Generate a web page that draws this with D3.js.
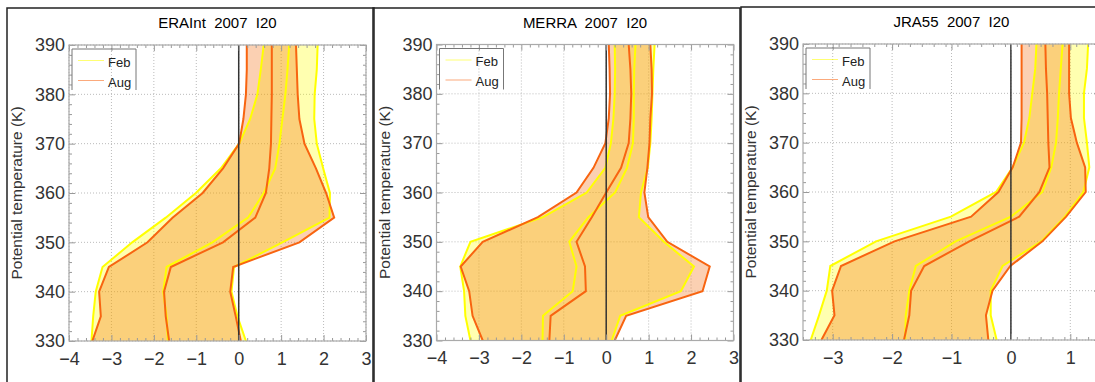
<!DOCTYPE html>
<html>
<head>
<meta charset="utf-8">
<script src="https://cdn.jsdelivr.net/npm/d3@7"></script>
<style>
  body { margin: 0; background: #fff; }
  text { font-family: 'Liberation Sans', Arial, sans-serif; }
</style>
</head>
<body>
<div class="chart"></div>
<script>
// potential temperature levels (K)
var levels = [330, 335, 340, 345, 350, 355, 360, 365, 370, 375, 380, 385, 390];

// ERAInt
var eraFebMin  = [-3.47, -3.43, -3.37, -3.21, -2.51, -1.72, -1.01, -0.42, 0.01, 0.27, 0.44, 0.52, 0.59];
var eraFebMean = [-1.67, -1.70, -1.78, -1.70, -0.62, 0.22, 0.59, 0.86, 0.96, 1.03, 1.10, 1.15, 1.19];
var eraFebMax  = [0.17, -0.03, -0.17, -0.11, 1.03, 2.14, 2.15, 1.99, 1.84, 1.78, 1.79, 1.84, 1.86];
var eraAugMin  = [-3.45, -3.25, -3.29, -3.06, -2.15, -1.56, -0.85, -0.37, 0.01, 0.11, 0.17, 0.19, 0.19];
var eraAugMean = [-1.64, -1.72, -1.76, -1.60, -0.37, 0.39, 0.64, 0.72, 0.76, 0.77, 0.78, 0.78, 0.78];
var eraAugMax  = [0.05, -0.07, -0.20, -0.13, 1.43, 2.25, 2.06, 1.82, 1.55, 1.43, 1.39, 1.37, 1.35];

// MERRA
var merFebMin  = [-3.20, -3.32, -3.35, -3.44, -3.20, -1.49, -0.46, -0.02, 0.11, 0.17, 0.20, 0.21, 0.20];
var merFebMean = [-1.50, -1.49, -0.79, -0.70, -0.87, -0.42, 0.21, 0.49, 0.63, 0.65, 0.65, 0.66, 0.69];
var merFebMax  = [0.13, 0.33, 1.76, 2.07, 1.36, 0.77, 0.82, 0.98, 1.04, 1.07, 1.09, 1.11, 1.14];
var merAugMin  = [-2.91, -3.15, -3.23, -3.43, -2.91, -1.61, -0.70, -0.30, -0.02, 0.06, 0.09, 0.08, 0.06];
var merAugMean = [-1.34, -1.31, -0.48, -0.50, -0.70, -0.34, 0.00, 0.35, 0.53, 0.57, 0.59, 0.57, 0.53];
var merAugMax  = [0.20, 0.47, 2.27, 2.44, 1.44, 0.99, 0.90, 0.97, 1.02, 1.04, 1.08, 1.07, 1.04];

// JRA55
var jraFebMin  = [-3.37, -3.23, -3.10, -3.04, -2.27, -1.01, -0.25, 0.03, 0.22, 0.31, 0.36, 0.41, 0.43];
var jraFebMean = [-1.78, -1.77, -1.71, -1.60, -0.93, 0.00, 0.53, 0.68, 0.76, 0.79, 0.81, 0.84, 0.87];
var jraFebMax  = [-0.24, -0.34, -0.34, -0.14, 0.51, 0.91, 1.22, 1.32, 1.28, 1.23, 1.23, 1.28, 1.30];
var jraAugMin  = [-3.19, -2.97, -3.01, -2.86, -1.96, -0.67, -0.21, 0.03, 0.17, 0.18, 0.18, 0.18, 0.18];
var jraAugMean = [-1.80, -1.71, -1.68, -1.46, -0.70, 0.14, 0.48, 0.65, 0.63, 0.62, 0.61, 0.59, 0.58];
var jraAugMax  = [-0.38, -0.42, -0.31, -0.01, 0.53, 0.93, 1.26, 1.25, 1.11, 1.01, 0.98, 0.98, 0.98];

var titles = ['ERAInt  2007  I20', 'MERRA  2007  I20', 'JRA55  2007  I20'];
var seasons = ['Feb', 'Aug'];
var yTicks = [330, 340, 350, 360, 370, 380, 390];

var febColor = '#ffff00', augColor = '#f86410';

var svg = d3.select('.chart')
  .append('svg')
  .attr('width', 1095)
  .attr('height', 382);

var panels = [
  {title: titles[0], feb: [eraFebMin, eraFebMean, eraFebMax], aug: [eraAugMin, eraAugMean, eraAugMax],
   xDomain: [-4, 3], box: 7, boxTop: 8, left: 69, top: 45},
  {title: titles[1], feb: [merFebMin, merFebMean, merFebMax], aug: [merAugMin, merAugMean, merAugMax],
   xDomain: [-4, 3], box: 373, boxTop: 8, left: 436.5, top: 44.5},
  {title: titles[2], feb: [jraFebMin, jraFebMean, jraFebMax], aug: [jraAugMin, jraAugMean, jraAugMax],
   xDomain: [-3.5, 1.5], box: 741, boxTop: 7, left: 803, top: 44}
];

var W = 297, H = 296;

panels.forEach(function(p, i){
  // outer panel border
  svg.append('rect')
    .attr('x', p.box).attr('y', p.boxTop)
    .attr('width', 367).attr('height', 400)
    .attr('fill', 'none').attr('stroke', '#222').attr('stroke-width', 1.5);

  var x = d3.scaleLinear().domain(p.xDomain).range([p.left, p.left + W]);
  var y = d3.scaleLinear().domain([330, 390]).range([p.top + H, p.top]);

  var xMajor = d3.range(Math.ceil(p.xDomain[0]), p.xDomain[1] + 0.001, 1);
  var xMinor = d3.range(p.xDomain[0], p.xDomain[1] + 0.001, 0.2).filter(function(v){
    return Math.abs(v - Math.round(v)) > 0.01;
  });
  var yMinor = d3.range(330, 391, 2).filter(function(v){ return v % 10 != 0; });

  var clipId = 'clip' + i;
  svg.append('clipPath').attr('id', clipId)
    .append('rect').attr('x', p.left).attr('y', p.top).attr('width', W).attr('height', H);

  var g = svg.append('g');

  // dotted grid
  g.selectAll('.gx').data(xMajor).enter().append('line')
    .attr('x1', function(d){ return x(d); }).attr('x2', function(d){ return x(d); })
    .attr('y1', p.top).attr('y2', p.top + H)
    .attr('stroke', '#bbb').attr('stroke-dasharray', '1,2');
  g.selectAll('.gy').data(yTicks).enter().append('line')
    .attr('x1', p.left).attr('x2', p.left + W)
    .attr('y1', function(d){ return y(d); }).attr('y2', function(d){ return y(d); })
    .attr('stroke', '#bbb').attr('stroke-dasharray', '1,2');

  var plot = g.append('g').attr('clip-path', 'url(#' + clipId + ')');

  var band = function(lo, hi){
    return d3.area()
      .y(function(d, k){ return y(levels[k]); })
      .x0(function(d, k){ return x(lo[k]); })
      .x1(function(d, k){ return x(hi[k]); })(levels);
  };
  var line = function(arr){
    return d3.line()
      .x(function(d, k){ return x(arr[k]); })
      .y(function(d, k){ return y(levels[k]); })(levels);
  };

  plot.append('path').attr('d', band(p.feb[0], p.feb[2]))
    .attr('fill', febColor).attr('fill-opacity', 0.31);
  plot.append('path').attr('d', band(p.aug[0], p.aug[2]))
    .attr('fill', '#f26200').attr('fill-opacity', 0.3);

  p.feb.forEach(function(arr){
    plot.append('path').attr('d', line(arr))
      .attr('fill', 'none').attr('stroke', febColor).attr('stroke-width', 2);
  });
  p.aug.forEach(function(arr){
    plot.append('path').attr('d', line(arr))
      .attr('fill', 'none').attr('stroke', augColor).attr('stroke-width', 2);
  });

  // zero line
  g.append('line')
    .attr('x1', x(0)).attr('x2', x(0))
    .attr('y1', p.top).attr('y2', p.top + H)
    .attr('stroke', '#333').attr('stroke-width', 1.5);

  // axes, ticks pointing inward
  var bottom = g.append('g').attr('transform', 'translate(0,' + (p.top + H) + ')')
    .call(d3.axisBottom(x).tickValues(xMajor).tickSizeInner(-6).tickSizeOuter(0).tickPadding(11)
      .tickFormat(d3.format('d')));
  g.append('g').attr('transform', 'translate(0,' + (p.top + H) + ')')
    .call(d3.axisBottom(x).tickValues(xMinor).tickSize(-3).tickFormat(''));
  g.append('g').attr('transform', 'translate(0,' + p.top + ')')
    .call(d3.axisTop(x).tickValues(xMajor).tickSize(-6).tickFormat(''));
  g.append('g').attr('transform', 'translate(0,' + p.top + ')')
    .call(d3.axisTop(x).tickValues(xMinor).tickSize(-3).tickFormat(''));

  var left = g.append('g').attr('transform', 'translate(' + p.left + ',0)')
    .call(d3.axisLeft(y).tickValues(yTicks).tickSizeInner(-6).tickSizeOuter(0).tickPadding(4));
  g.append('g').attr('transform', 'translate(' + p.left + ',0)')
    .call(d3.axisLeft(y).tickValues(yMinor).tickSize(-3).tickFormat(''));
  g.append('g').attr('transform', 'translate(' + (p.left + W) + ',0)')
    .call(d3.axisRight(y).tickValues(yTicks).tickSize(-6).tickFormat(''));
  g.append('g').attr('transform', 'translate(' + (p.left + W) + ',0)')
    .call(d3.axisRight(y).tickValues(yMinor).tickSize(-3).tickFormat(''));

  g.selectAll('.domain').remove();
  g.selectAll('.tick line').attr('stroke', '#999');
  g.selectAll('.tick text').attr('fill', '#333').style('font-size', '18px')
    .style('font-family', "'Liberation Sans', Arial, sans-serif");

  // plot frame
  g.append('rect')
    .attr('x', p.left).attr('y', p.top).attr('width', W).attr('height', H)
    .attr('fill', 'none').attr('stroke', '#aaa').attr('stroke-width', 1.2);

  // titles
  svg.append('text')
    .attr('x', p.left + W / 2).attr('y', p.top - 17)
    .attr('text-anchor', 'middle')
    .style('font-size', '15px').style('white-space', 'pre')
    .attr('fill', '#000')
    .text(p.title);

  svg.append('text')
    .attr('transform', 'translate(' + (p.left - 47) + ',' + (p.top + H / 2) + ') rotate(-90)')
    .attr('text-anchor', 'middle')
    .style('font-size', '15.5px')
    .attr('fill', '#333')
    .text('Potential temperature (K)');

  // legend
  var lg = svg.append('g').attr('transform', 'translate(' + (p.left + 3) + ',' + (p.top + 4) + ')');
  lg.append('path').attr('d', 'M0,41V0H64V41')
    .attr('fill', 'none').attr('stroke', '#777').attr('stroke-width', 1);
  seasons.forEach(function(s, k){
    lg.append('line')
      .attr('x1', 6).attr('x2', 32)
      .attr('y1', 11.5 + k * 20).attr('y2', 11.5 + k * 20)
      .attr('stroke', k == 0 ? febColor : augColor)
      .attr('stroke-opacity', 0.55).attr('stroke-width', 1);
    lg.append('text')
      .attr('x', 36).attr('y', 17.5 + k * 20)
      .style('font-size', '13px').attr('fill', '#222')
      .text(s);
  });
});
</script>
</body>
</html>
